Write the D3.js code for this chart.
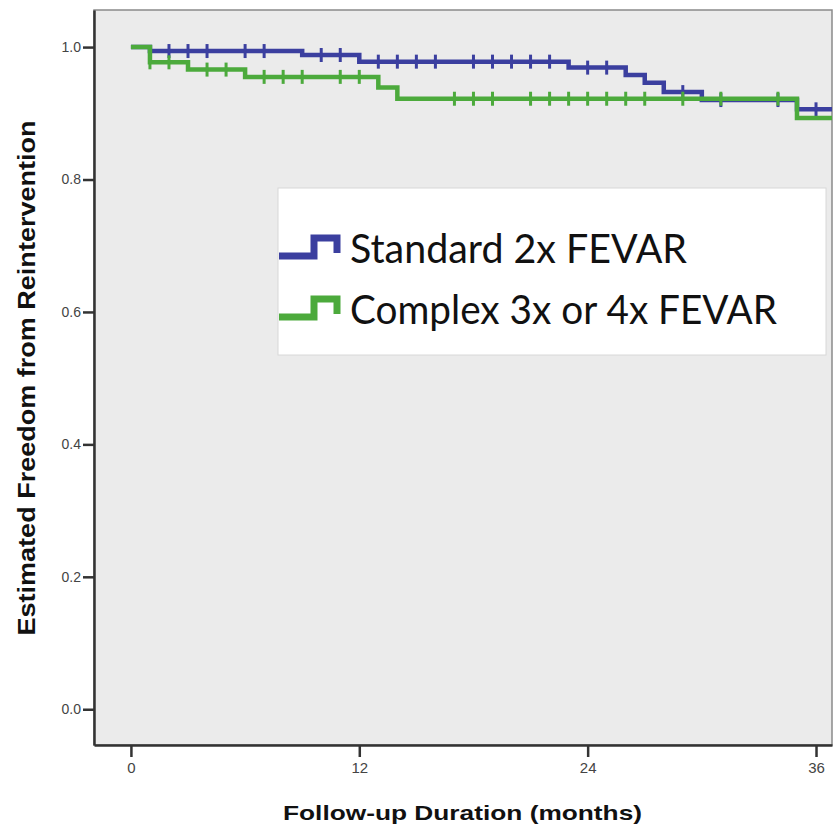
<!DOCTYPE html>
<html>
<head>
<meta charset="utf-8">
<script src="https://cdn.jsdelivr.net/npm/d3@7"></script>
<style>
  body { margin: 0; background: #fff; }
</style>
</head>
<body>
<div id="km_chart"></div>
<script>
// Kaplan-Meier steps (time in months, survival)
const standardTimes = [0, 1, 9, 12, 23, 26, 27, 28, 30, 35]
const standardSurv = [1.0, 0.994, 0.988, 0.978, 0.969, 0.958, 0.946, 0.932, 0.920, 0.906]
const standardCensored = [2, 3, 4, 6, 7, 10, 11, 13, 14, 15, 16, 18, 19, 20, 21, 22, 24, 25, 29, 31, 34, 36]

const complexTimes = [0, 1, 3, 6, 13, 14, 35]
const complexSurv = [1.0, 0.977, 0.966, 0.955, 0.939, 0.922, 0.893]
const complexCensored = [1, 2, 4, 5, 7, 8, 9, 11, 12, 17, 18, 19, 21, 22, 23, 24, 25, 26, 27, 29, 31, 34]

const xTicks = [0, 12, 24, 36]
const yTicks = [0, 0.2, 0.4, 0.6, 0.8, 1.0]
const legendLabels = ['Standard 2x FEVAR', 'Complex 3x or 4x FEVAR']
const lastFollowUp = 36.9

const width = 834
const height = 829
const plot = {left: 94, right: 832, top: 10, bottom: 745}

const svg = d3.select('#km_chart')
    .append('svg')
    .attr('width', width)
    .attr('height', height)

const xScale = d3.scaleLinear().domain([-1.94, 36.84]).range([plot.left, plot.right])
const yScale = d3.scaleLinear().domain([-0.054, 1.056]).range([plot.bottom, plot.top])

// plot background and light frame
svg.append('rect')
    .attr('x', plot.left)
    .attr('y', plot.top)
    .attr('width', plot.right - plot.left)
    .attr('height', plot.bottom - plot.top)
    .style('fill', '#ebebeb')
    .style('stroke', '#8a8a8a')
    .style('stroke-width', 1.5)

svg.append('clipPath')
    .attr('id', 'plotClip')
    .append('rect')
    .attr('x', plot.left)
    .attr('y', plot.top)
    .attr('width', plot.right - plot.left)
    .attr('height', plot.bottom - plot.top)

function survivalAt(times, surv, t) {
    const i = d3.bisectRight(times, t) - 1
    return surv[Math.max(i, 0)]
}

function drawCurve(times, surv, censored, color) {
    const pts = times.map((t, i) => ({x: t, y: surv[i]}))
    pts.push({x: lastFollowUp, y: surv[surv.length - 1]})

    const line = d3.line()
        .x(d => xScale(d.x))
        .y(d => yScale(d.y))
        .curve(d3.curveStepAfter)

    const g = svg.append('g').attr('clip-path', 'url(#plotClip)')

    g.append('path')
        .datum(pts)
        .attr('d', line)
        .style('fill', 'none')
        .style('stroke', color)
        .style('stroke-width', 4.5)

    // censor marks
    g.selectAll('line.censor')
        .data(censored)
        .enter()
        .append('line')
        .attr('class', 'censor')
        .attr('x1', d => xScale(d))
        .attr('x2', d => xScale(d))
        .attr('y1', d => yScale(survivalAt(times, surv, d)) - 7)
        .attr('y2', d => yScale(survivalAt(times, surv, d)) + 7)
        .style('stroke', color)
        .style('stroke-width', 3)
}

const blue = '#3b3f9f'
const green = '#4caa3c'

drawCurve(standardTimes, standardSurv, standardCensored, blue)
drawCurve(complexTimes, complexSurv, complexCensored, green)

// left axis
const yAxis = svg.append('g')
    .attr('transform', `translate(${plot.left}, 0)`)
    .call(d3.axisLeft(yScale).tickValues(yTicks).tickFormat(d3.format('.1f')).tickSize(11).tickSizeOuter(0))
yAxis.select('.domain').style('stroke', '#333').style('stroke-width', 2.5)
yAxis.selectAll('.tick line').style('stroke', '#333').style('stroke-width', 2.5)
yAxis.selectAll('.tick text')
    .attr('x', -13)
    .style('font-family', 'Liberation Sans, Arial, sans-serif')
    .style('font-size', '14px')
    .style('fill', '#444')

// bottom axis
const xAxis = svg.append('g')
    .attr('transform', `translate(0, ${plot.bottom})`)
    .call(d3.axisBottom(xScale).tickValues(xTicks).tickSize(12).tickSizeOuter(0))
xAxis.select('.domain').style('stroke', '#333').style('stroke-width', 2.5)
xAxis.selectAll('.tick line').style('stroke', '#333').style('stroke-width', 2.5)
xAxis.selectAll('.tick text')
    .attr('y', 17)
    .style('font-family', 'Liberation Sans, Arial, sans-serif')
    .style('font-size', '15px')
    .style('fill', '#444')

// legend box
const legend = svg.append('g')
legend.append('rect')
    .attr('x', 278)
    .attr('y', 188)
    .attr('width', 548)
    .attr('height', 167)
    .style('fill', '#fff')
    .style('stroke', '#d8d8d8')

const legendColors = [blue, green]
legendLabels.forEach((label, i) => {
    const cy = 247 + i * 61
    legend.append('path')
        .attr('d', `M279,${cy + 9} H314 V${cy - 9} H337 V${cy + 6}`)
        .style('fill', 'none')
        .style('stroke', legendColors[i])
        .style('stroke-width', 7)
    legend.append('text')
        .attr('x', 350)
        .attr('y', cy + 16)
        .attr('textLength', i == 0 ? 337 : 427)
        .attr('lengthAdjust', 'spacingAndGlyphs')
        .style('font-family', 'Lato, sans-serif')
        .style('font-size', '41px')
        .style('fill', '#111')
        .text(label)
})

// X label
svg.append('text')
    .attr('x', 283)
    .attr('y', 820)
    .attr('textLength', 359)
    .attr('lengthAdjust', 'spacingAndGlyphs')
    .style('font-family', 'Liberation Sans, Arial, sans-serif')
    .style('font-weight', 'bold')
    .style('font-size', '21px')
    .style('fill', '#111')
    .text('Follow-up Duration (months)')

// Y label
svg.append('text')
    .attr('text-anchor', 'middle')
    .attr('transform', 'translate(35,378)rotate(-90)')
    .attr('textLength', 515)
    .attr('lengthAdjust', 'spacingAndGlyphs')
    .style('font-family', 'Liberation Sans, Arial, sans-serif')
    .style('font-weight', 'bold')
    .style('font-size', '23px')
    .style('fill', '#111')
    .text('Estimated Freedom from Reintervention')
</script>
</body>
</html>
